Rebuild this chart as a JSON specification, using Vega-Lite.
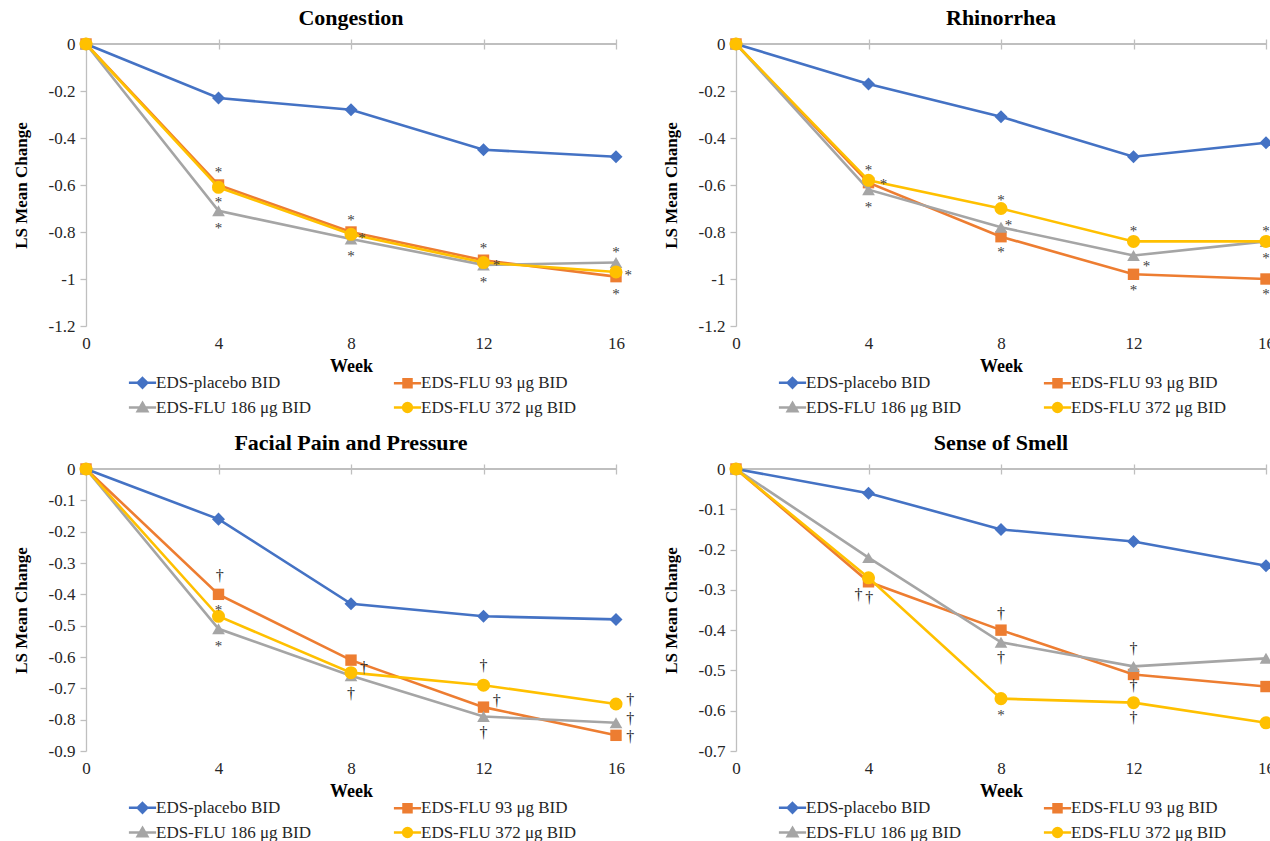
{
  "$schema": "https://vega.github.io/schema/vega-lite/v6.json",
  "background": "white",
  "padding": {"left": 12, "top": 7, "right": 0, "bottom": 0},
  "columns": 2,
  "spacing": {"row": 143, "column": 120},
  "bounds": "flush",
  "resolve": {"scale": {"fill": "independent", "stroke": "independent", "shape": "independent"}, "legend": {"fill": "independent", "stroke": "independent", "shape": "independent"}},
  "datasets": {
    "congestion": [
      {"week": 0, "group": "EDS-placebo BID", "value": 0}, {"week": 4, "group": "EDS-placebo BID", "value": -0.23}, {"week": 8, "group": "EDS-placebo BID", "value": -0.28}, {"week": 12, "group": "EDS-placebo BID", "value": -0.45}, {"week": 16, "group": "EDS-placebo BID", "value": -0.48},
      {"week": 0, "group": "EDS-FLU 93 μg BID", "value": 0}, {"week": 4, "group": "EDS-FLU 93 μg BID", "value": -0.6}, {"week": 8, "group": "EDS-FLU 93 μg BID", "value": -0.8}, {"week": 12, "group": "EDS-FLU 93 μg BID", "value": -0.92}, {"week": 16, "group": "EDS-FLU 93 μg BID", "value": -0.99},
      {"week": 0, "group": "EDS-FLU 186 μg BID", "value": 0}, {"week": 4, "group": "EDS-FLU 186 μg BID", "value": -0.71}, {"week": 8, "group": "EDS-FLU 186 μg BID", "value": -0.83}, {"week": 12, "group": "EDS-FLU 186 μg BID", "value": -0.94}, {"week": 16, "group": "EDS-FLU 186 μg BID", "value": -0.93},
      {"week": 0, "group": "EDS-FLU 372 μg BID", "value": 0}, {"week": 4, "group": "EDS-FLU 372 μg BID", "value": -0.61}, {"week": 8, "group": "EDS-FLU 372 μg BID", "value": -0.81}, {"week": 12, "group": "EDS-FLU 372 μg BID", "value": -0.93}, {"week": 16, "group": "EDS-FLU 372 μg BID", "value": -0.97}
    ],
    "rhinorrhea": [
      {"week": 0, "group": "EDS-placebo BID", "value": 0}, {"week": 4, "group": "EDS-placebo BID", "value": -0.17}, {"week": 8, "group": "EDS-placebo BID", "value": -0.31}, {"week": 12, "group": "EDS-placebo BID", "value": -0.48}, {"week": 16, "group": "EDS-placebo BID", "value": -0.42},
      {"week": 0, "group": "EDS-FLU 93 μg BID", "value": 0}, {"week": 4, "group": "EDS-FLU 93 μg BID", "value": -0.59}, {"week": 8, "group": "EDS-FLU 93 μg BID", "value": -0.82}, {"week": 12, "group": "EDS-FLU 93 μg BID", "value": -0.98}, {"week": 16, "group": "EDS-FLU 93 μg BID", "value": -1.0},
      {"week": 0, "group": "EDS-FLU 186 μg BID", "value": 0}, {"week": 4, "group": "EDS-FLU 186 μg BID", "value": -0.62}, {"week": 8, "group": "EDS-FLU 186 μg BID", "value": -0.78}, {"week": 12, "group": "EDS-FLU 186 μg BID", "value": -0.9}, {"week": 16, "group": "EDS-FLU 186 μg BID", "value": -0.84},
      {"week": 0, "group": "EDS-FLU 372 μg BID", "value": 0}, {"week": 4, "group": "EDS-FLU 372 μg BID", "value": -0.58}, {"week": 8, "group": "EDS-FLU 372 μg BID", "value": -0.7}, {"week": 12, "group": "EDS-FLU 372 μg BID", "value": -0.84}, {"week": 16, "group": "EDS-FLU 372 μg BID", "value": -0.84}
    ],
    "facial": [
      {"week": 0, "group": "EDS-placebo BID", "value": 0}, {"week": 4, "group": "EDS-placebo BID", "value": -0.16}, {"week": 8, "group": "EDS-placebo BID", "value": -0.43}, {"week": 12, "group": "EDS-placebo BID", "value": -0.47}, {"week": 16, "group": "EDS-placebo BID", "value": -0.48},
      {"week": 0, "group": "EDS-FLU 93 μg BID", "value": 0}, {"week": 4, "group": "EDS-FLU 93 μg BID", "value": -0.4}, {"week": 8, "group": "EDS-FLU 93 μg BID", "value": -0.61}, {"week": 12, "group": "EDS-FLU 93 μg BID", "value": -0.76}, {"week": 16, "group": "EDS-FLU 93 μg BID", "value": -0.85},
      {"week": 0, "group": "EDS-FLU 186 μg BID", "value": 0}, {"week": 4, "group": "EDS-FLU 186 μg BID", "value": -0.51}, {"week": 8, "group": "EDS-FLU 186 μg BID", "value": -0.66}, {"week": 12, "group": "EDS-FLU 186 μg BID", "value": -0.79}, {"week": 16, "group": "EDS-FLU 186 μg BID", "value": -0.81},
      {"week": 0, "group": "EDS-FLU 372 μg BID", "value": 0}, {"week": 4, "group": "EDS-FLU 372 μg BID", "value": -0.47}, {"week": 8, "group": "EDS-FLU 372 μg BID", "value": -0.65}, {"week": 12, "group": "EDS-FLU 372 μg BID", "value": -0.69}, {"week": 16, "group": "EDS-FLU 372 μg BID", "value": -0.75}
    ],
    "smell": [
      {"week": 0, "group": "EDS-placebo BID", "value": 0}, {"week": 4, "group": "EDS-placebo BID", "value": -0.06}, {"week": 8, "group": "EDS-placebo BID", "value": -0.15}, {"week": 12, "group": "EDS-placebo BID", "value": -0.18}, {"week": 16, "group": "EDS-placebo BID", "value": -0.24},
      {"week": 0, "group": "EDS-FLU 93 μg BID", "value": 0}, {"week": 4, "group": "EDS-FLU 93 μg BID", "value": -0.28}, {"week": 8, "group": "EDS-FLU 93 μg BID", "value": -0.4}, {"week": 12, "group": "EDS-FLU 93 μg BID", "value": -0.51}, {"week": 16, "group": "EDS-FLU 93 μg BID", "value": -0.54},
      {"week": 0, "group": "EDS-FLU 186 μg BID", "value": 0}, {"week": 4, "group": "EDS-FLU 186 μg BID", "value": -0.22}, {"week": 8, "group": "EDS-FLU 186 μg BID", "value": -0.43}, {"week": 12, "group": "EDS-FLU 186 μg BID", "value": -0.49}, {"week": 16, "group": "EDS-FLU 186 μg BID", "value": -0.47},
      {"week": 0, "group": "EDS-FLU 372 μg BID", "value": 0}, {"week": 4, "group": "EDS-FLU 372 μg BID", "value": -0.27}, {"week": 8, "group": "EDS-FLU 372 μg BID", "value": -0.57}, {"week": 12, "group": "EDS-FLU 372 μg BID", "value": -0.58}, {"week": 16, "group": "EDS-FLU 372 μg BID", "value": -0.63}
    ],
    "congestionNotes": [
      {"week": 4, "value": -0.533, "sym": "*"}, {"week": 4, "value": -0.658, "sym": "*"}, {"week": 4, "value": -0.77, "sym": "*"},
      {"week": 8, "value": -0.736, "sym": "*"}, {"week": 8.33, "value": -0.814, "sym": "*"}, {"week": 8, "value": -0.89, "sym": "*"},
      {"week": 12, "value": -0.857, "sym": "*"}, {"week": 12.39, "value": -0.928, "sym": "*"}, {"week": 12, "value": -1.0, "sym": "*"},
      {"week": 16, "value": -0.874, "sym": "*"}, {"week": 16.37, "value": -0.969, "sym": "*"}, {"week": 16, "value": -1.05, "sym": "*"}
    ],
    "rhinorrheaNotes": [
      {"week": 4, "value": -0.523, "sym": "*"}, {"week": 4.45, "value": -0.582, "sym": "*"}, {"week": 4, "value": -0.682, "sym": "*"},
      {"week": 8, "value": -0.65, "sym": "*"}, {"week": 8.23, "value": -0.757, "sym": "*"}, {"week": 8, "value": -0.873, "sym": "*"},
      {"week": 12, "value": -0.781, "sym": "*"}, {"week": 12.39, "value": -0.93, "sym": "*"}, {"week": 12, "value": -1.034, "sym": "*"},
      {"week": 16, "value": -0.781, "sym": "*"}, {"week": 16, "value": -0.898, "sym": "*"}, {"week": 16, "value": -1.05, "sym": "*"}
    ],
    "facialNotes": [
      {"week": 4.04, "value": -0.343, "sym": "†"}, {"week": 4, "value": -0.439, "sym": "*"}, {"week": 4, "value": -0.554, "sym": "*"},
      {"week": 8.39, "value": -0.636, "sym": "†"}, {"week": 8, "value": -0.718, "sym": "†"},
      {"week": 12, "value": -0.63, "sym": "†"}, {"week": 12.4, "value": -0.742, "sym": "†"}, {"week": 12, "value": -0.843, "sym": "†"},
      {"week": 16.43, "value": -0.737, "sym": "†"}, {"week": 16.43, "value": -0.798, "sym": "†"}, {"week": 16.43, "value": -0.854, "sym": "†"}
    ],
    "smellNotes": [
      {"week": 3.7, "value": -0.313, "sym": "†"}, {"week": 4.02, "value": -0.321, "sym": "†"},
      {"week": 8, "value": -0.36, "sym": "†"}, {"week": 8, "value": -0.468, "sym": "†"}, {"week": 8, "value": -0.603, "sym": "*"},
      {"week": 12, "value": -0.447, "sym": "†"}, {"week": 12, "value": -0.539, "sym": "†"}, {"week": 12, "value": -0.617, "sym": "†"}
    ]
  },
  "concat": [
    {
      "title": "Congestion",
      "width": 530, "height": 282,
      "data": {"name": "congestion"},
      "resolve": {"axis": {"x": "independent", "y": "independent"}},
      "layer": [
        {"mark": {"type": "rule", "color": "#BFBFBF", "strokeWidth": 1.3}, "encoding": {"y": {"datum": 0, "type": "quantitative", "axis": null}}},
        {"transform": [{"filter": {"field": "group", "equal": "EDS-placebo BID"}}], "mark": {"type": "line", "strokeWidth": 2.6, "color": "#4472C4"},
         "encoding": {
           "x": {"field": "week", "type": "quantitative", "scale": {"domain": [0, 16], "nice": false, "zero": false}, "axis": {"orient": "bottom", "values": [0, 4, 8, 12, 16], "domain": false, "ticks": false, "labelPadding": 9, "labelFlush": false, "title": "Week", "titlePadding": 6}},
           "y": {"field": "value", "type": "quantitative", "scale": {"domain": [-1.2, 0], "nice": false, "zero": false}, "axis": {"values": [0, -0.2, -0.4, -0.6, -0.8, -1, -1.2], "labelExpr": "toString(round(datum.value*10)/10)", "title": "LS Mean Change", "tickSize": 6, "labelPadding": 5, "titlePadding": 18}}}},
        {"transform": [{"filter": {"field": "group", "equal": "EDS-placebo BID"}}], "mark": {"type": "point", "shape": "diamond", "filled": true, "opacity": 1, "size": 170, "color": "#4472C4"}, "encoding": {"x": {"field": "week", "type": "quantitative", "axis": null}, "y": {"field": "value", "type": "quantitative", "axis": null}}},
        {"transform": [{"filter": {"field": "group", "equal": "EDS-FLU 93 μg BID"}}], "mark": {"type": "line", "strokeWidth": 2.6, "color": "#ED7D31"}, "encoding": {"x": {"field": "week", "type": "quantitative", "axis": null}, "y": {"field": "value", "type": "quantitative", "axis": null}}},
        {"transform": [{"filter": {"field": "group", "equal": "EDS-FLU 93 μg BID"}}], "mark": {"type": "point", "shape": "square", "filled": true, "opacity": 1, "size": 130, "color": "#ED7D31"}, "encoding": {"x": {"field": "week", "type": "quantitative", "axis": null}, "y": {"field": "value", "type": "quantitative", "axis": null}}},
        {"transform": [{"filter": {"field": "group", "equal": "EDS-FLU 186 μg BID"}}], "mark": {"type": "line", "strokeWidth": 2.6, "color": "#A5A5A5"}, "encoding": {"x": {"field": "week", "type": "quantitative", "axis": null}, "y": {"field": "value", "type": "quantitative", "axis": null}}},
        {"transform": [{"filter": {"field": "group", "equal": "EDS-FLU 186 μg BID"}}], "mark": {"type": "point", "shape": "triangle-up", "filled": true, "opacity": 1, "size": 160, "color": "#A5A5A5"}, "encoding": {"x": {"field": "week", "type": "quantitative", "axis": null}, "y": {"field": "value", "type": "quantitative", "axis": null}}},
        {"transform": [{"filter": {"field": "group", "equal": "EDS-FLU 372 μg BID"}}], "mark": {"type": "line", "strokeWidth": 2.6, "color": "#FFC000"}, "encoding": {"x": {"field": "week", "type": "quantitative", "axis": null}, "y": {"field": "value", "type": "quantitative", "axis": null}}},
        {"transform": [{"filter": {"field": "group", "equal": "EDS-FLU 372 μg BID"}}], "mark": {"type": "point", "shape": "circle", "filled": true, "opacity": 1, "size": 170, "color": "#FFC000"}, "encoding": {"x": {"field": "week", "type": "quantitative", "axis": null}, "y": {"field": "value", "type": "quantitative", "axis": null}}},
        {"mark": {"type": "point", "opacity": 0},
         "encoding": {
           "x": {"field": "week", "type": "quantitative", "axis": {"orient": "top", "values": [4, 8, 12, 16], "domain": false, "labels": false, "ticks": true, "tickSize": 10, "offset": -5, "title": null}},
           "y": {"field": "value", "type": "quantitative", "axis": null},
           "fill": {"field": "group", "type": "nominal", "scale": {"domain": ["EDS-placebo BID", "EDS-FLU 93 μg BID", "EDS-FLU 186 μg BID", "EDS-FLU 372 μg BID"], "range": ["#4472C4", "#ED7D31", "#A5A5A5", "#FFC000"]}, "legend": {"title": null, "orient": "none", "direction": "horizontal", "legendX": 48, "legendY": 330}},
           "stroke": {"field": "group", "type": "nominal", "scale": {"domain": ["EDS-placebo BID", "EDS-FLU 93 μg BID", "EDS-FLU 186 μg BID", "EDS-FLU 372 μg BID"], "range": ["#4472C4", "#ED7D31", "#A5A5A5", "#FFC000"]}, "legend": {"title": null, "orient": "none", "direction": "horizontal", "legendX": 48, "legendY": 330}},
           "shape": {"field": "group", "type": "nominal", "scale": {"domain": ["EDS-placebo BID", "EDS-FLU 93 μg BID", "EDS-FLU 186 μg BID", "EDS-FLU 372 μg BID"], "range": ["M-3.4,0H3.4M0,-1.2L1.2,0L0,1.2L-1.2,0Z", "M-3.4,0H3.4M-1,-1H1V1H-1Z", "M-3.4,0H3.4M0,-1.15L1.2,0.95H-1.2Z", "M-3.4,0H3.4M-1.1,0A1.1,1.1,0,1,1,1.1,0A1.1,1.1,0,1,1,-1.1,0Z"]}, "legend": {"title": null, "orient": "none", "direction": "horizontal", "legendX": 48, "legendY": 330}}}},
        {"data": {"name": "congestionNotes"}, "transform": [{"filter": "datum.sym === '*'"}], "mark": {"type": "text", "fontSize": 15, "fill": "#404040", "dy": 3}, "encoding": {"x": {"field": "week", "type": "quantitative", "axis": null}, "y": {"field": "value", "type": "quantitative", "axis": null}, "text": {"field": "sym"}}},
        {"data": {"name": "congestionNotes"}, "transform": [{"filter": "datum.sym === '†'"}], "mark": {"type": "text", "fontSize": 16, "fill": "#262626"}, "encoding": {"x": {"field": "week", "type": "quantitative", "axis": null}, "y": {"field": "value", "type": "quantitative", "axis": null}, "text": {"field": "sym"}}}
      ]
    },
    {
      "title": "Rhinorrhea",
      "width": 530, "height": 282,
      "data": {"name": "rhinorrhea"},
      "resolve": {"axis": {"x": "independent", "y": "independent"}},
      "layer": [
        {"mark": {"type": "rule", "color": "#BFBFBF", "strokeWidth": 1.3}, "encoding": {"y": {"datum": 0, "type": "quantitative", "axis": null}}},
        {"transform": [{"filter": {"field": "group", "equal": "EDS-placebo BID"}}], "mark": {"type": "line", "strokeWidth": 2.6, "color": "#4472C4"},
         "encoding": {
           "x": {"field": "week", "type": "quantitative", "scale": {"domain": [0, 16], "nice": false, "zero": false}, "axis": {"orient": "bottom", "values": [0, 4, 8, 12, 16], "domain": false, "ticks": false, "labelPadding": 9, "labelFlush": false, "title": "Week", "titlePadding": 6}},
           "y": {"field": "value", "type": "quantitative", "scale": {"domain": [-1.2, 0], "nice": false, "zero": false}, "axis": {"values": [0, -0.2, -0.4, -0.6, -0.8, -1, -1.2], "labelExpr": "toString(round(datum.value*10)/10)", "title": "LS Mean Change", "tickSize": 6, "labelPadding": 5, "titlePadding": 18}}}},
        {"transform": [{"filter": {"field": "group", "equal": "EDS-placebo BID"}}], "mark": {"type": "point", "shape": "diamond", "filled": true, "opacity": 1, "size": 170, "color": "#4472C4"}, "encoding": {"x": {"field": "week", "type": "quantitative", "axis": null}, "y": {"field": "value", "type": "quantitative", "axis": null}}},
        {"transform": [{"filter": {"field": "group", "equal": "EDS-FLU 93 μg BID"}}], "mark": {"type": "line", "strokeWidth": 2.6, "color": "#ED7D31"}, "encoding": {"x": {"field": "week", "type": "quantitative", "axis": null}, "y": {"field": "value", "type": "quantitative", "axis": null}}},
        {"transform": [{"filter": {"field": "group", "equal": "EDS-FLU 93 μg BID"}}], "mark": {"type": "point", "shape": "square", "filled": true, "opacity": 1, "size": 130, "color": "#ED7D31"}, "encoding": {"x": {"field": "week", "type": "quantitative", "axis": null}, "y": {"field": "value", "type": "quantitative", "axis": null}}},
        {"transform": [{"filter": {"field": "group", "equal": "EDS-FLU 186 μg BID"}}], "mark": {"type": "line", "strokeWidth": 2.6, "color": "#A5A5A5"}, "encoding": {"x": {"field": "week", "type": "quantitative", "axis": null}, "y": {"field": "value", "type": "quantitative", "axis": null}}},
        {"transform": [{"filter": {"field": "group", "equal": "EDS-FLU 186 μg BID"}}], "mark": {"type": "point", "shape": "triangle-up", "filled": true, "opacity": 1, "size": 160, "color": "#A5A5A5"}, "encoding": {"x": {"field": "week", "type": "quantitative", "axis": null}, "y": {"field": "value", "type": "quantitative", "axis": null}}},
        {"transform": [{"filter": {"field": "group", "equal": "EDS-FLU 372 μg BID"}}], "mark": {"type": "line", "strokeWidth": 2.6, "color": "#FFC000"}, "encoding": {"x": {"field": "week", "type": "quantitative", "axis": null}, "y": {"field": "value", "type": "quantitative", "axis": null}}},
        {"transform": [{"filter": {"field": "group", "equal": "EDS-FLU 372 μg BID"}}], "mark": {"type": "point", "shape": "circle", "filled": true, "opacity": 1, "size": 170, "color": "#FFC000"}, "encoding": {"x": {"field": "week", "type": "quantitative", "axis": null}, "y": {"field": "value", "type": "quantitative", "axis": null}}},
        {"mark": {"type": "point", "opacity": 0},
         "encoding": {
           "x": {"field": "week", "type": "quantitative", "axis": {"orient": "top", "values": [4, 8, 12, 16], "domain": false, "labels": false, "ticks": true, "tickSize": 10, "offset": -5, "title": null}},
           "y": {"field": "value", "type": "quantitative", "axis": null},
           "fill": {"field": "group", "type": "nominal", "scale": {"domain": ["EDS-placebo BID", "EDS-FLU 93 μg BID", "EDS-FLU 186 μg BID", "EDS-FLU 372 μg BID"], "range": ["#4472C4", "#ED7D31", "#A5A5A5", "#FFC000"]}, "legend": {"title": null, "orient": "none", "direction": "horizontal", "legendX": 48, "legendY": 330}},
           "stroke": {"field": "group", "type": "nominal", "scale": {"domain": ["EDS-placebo BID", "EDS-FLU 93 μg BID", "EDS-FLU 186 μg BID", "EDS-FLU 372 μg BID"], "range": ["#4472C4", "#ED7D31", "#A5A5A5", "#FFC000"]}, "legend": {"title": null, "orient": "none", "direction": "horizontal", "legendX": 48, "legendY": 330}},
           "shape": {"field": "group", "type": "nominal", "scale": {"domain": ["EDS-placebo BID", "EDS-FLU 93 μg BID", "EDS-FLU 186 μg BID", "EDS-FLU 372 μg BID"], "range": ["M-3.4,0H3.4M0,-1.2L1.2,0L0,1.2L-1.2,0Z", "M-3.4,0H3.4M-1,-1H1V1H-1Z", "M-3.4,0H3.4M0,-1.15L1.2,0.95H-1.2Z", "M-3.4,0H3.4M-1.1,0A1.1,1.1,0,1,1,1.1,0A1.1,1.1,0,1,1,-1.1,0Z"]}, "legend": {"title": null, "orient": "none", "direction": "horizontal", "legendX": 48, "legendY": 330}}}},
        {"data": {"name": "rhinorrheaNotes"}, "transform": [{"filter": "datum.sym === '*'"}], "mark": {"type": "text", "fontSize": 15, "fill": "#404040", "dy": 3}, "encoding": {"x": {"field": "week", "type": "quantitative", "axis": null}, "y": {"field": "value", "type": "quantitative", "axis": null}, "text": {"field": "sym"}}},
        {"data": {"name": "rhinorrheaNotes"}, "transform": [{"filter": "datum.sym === '†'"}], "mark": {"type": "text", "fontSize": 16, "fill": "#262626"}, "encoding": {"x": {"field": "week", "type": "quantitative", "axis": null}, "y": {"field": "value", "type": "quantitative", "axis": null}, "text": {"field": "sym"}}}
      ]
    },
    {
      "title": "Facial Pain and Pressure",
      "width": 530, "height": 282,
      "data": {"name": "facial"},
      "resolve": {"axis": {"x": "independent", "y": "independent"}},
      "layer": [
        {"mark": {"type": "rule", "color": "#BFBFBF", "strokeWidth": 1.3}, "encoding": {"y": {"datum": 0, "type": "quantitative", "axis": null}}},
        {"transform": [{"filter": {"field": "group", "equal": "EDS-placebo BID"}}], "mark": {"type": "line", "strokeWidth": 2.6, "color": "#4472C4"},
         "encoding": {
           "x": {"field": "week", "type": "quantitative", "scale": {"domain": [0, 16], "nice": false, "zero": false}, "axis": {"orient": "bottom", "values": [0, 4, 8, 12, 16], "domain": false, "ticks": false, "labelPadding": 9, "labelFlush": false, "title": "Week", "titlePadding": 6}},
           "y": {"field": "value", "type": "quantitative", "scale": {"domain": [-0.9, 0], "nice": false, "zero": false}, "axis": {"values": [0, -0.1, -0.2, -0.3, -0.4, -0.5, -0.6, -0.7, -0.8, -0.9], "labelExpr": "toString(round(datum.value*10)/10)", "title": "LS Mean Change", "tickSize": 6, "labelPadding": 5, "titlePadding": 18}}}},
        {"transform": [{"filter": {"field": "group", "equal": "EDS-placebo BID"}}], "mark": {"type": "point", "shape": "diamond", "filled": true, "opacity": 1, "size": 170, "color": "#4472C4"}, "encoding": {"x": {"field": "week", "type": "quantitative", "axis": null}, "y": {"field": "value", "type": "quantitative", "axis": null}}},
        {"transform": [{"filter": {"field": "group", "equal": "EDS-FLU 93 μg BID"}}], "mark": {"type": "line", "strokeWidth": 2.6, "color": "#ED7D31"}, "encoding": {"x": {"field": "week", "type": "quantitative", "axis": null}, "y": {"field": "value", "type": "quantitative", "axis": null}}},
        {"transform": [{"filter": {"field": "group", "equal": "EDS-FLU 93 μg BID"}}], "mark": {"type": "point", "shape": "square", "filled": true, "opacity": 1, "size": 130, "color": "#ED7D31"}, "encoding": {"x": {"field": "week", "type": "quantitative", "axis": null}, "y": {"field": "value", "type": "quantitative", "axis": null}}},
        {"transform": [{"filter": {"field": "group", "equal": "EDS-FLU 186 μg BID"}}], "mark": {"type": "line", "strokeWidth": 2.6, "color": "#A5A5A5"}, "encoding": {"x": {"field": "week", "type": "quantitative", "axis": null}, "y": {"field": "value", "type": "quantitative", "axis": null}}},
        {"transform": [{"filter": {"field": "group", "equal": "EDS-FLU 186 μg BID"}}], "mark": {"type": "point", "shape": "triangle-up", "filled": true, "opacity": 1, "size": 160, "color": "#A5A5A5"}, "encoding": {"x": {"field": "week", "type": "quantitative", "axis": null}, "y": {"field": "value", "type": "quantitative", "axis": null}}},
        {"transform": [{"filter": {"field": "group", "equal": "EDS-FLU 372 μg BID"}}], "mark": {"type": "line", "strokeWidth": 2.6, "color": "#FFC000"}, "encoding": {"x": {"field": "week", "type": "quantitative", "axis": null}, "y": {"field": "value", "type": "quantitative", "axis": null}}},
        {"transform": [{"filter": {"field": "group", "equal": "EDS-FLU 372 μg BID"}}], "mark": {"type": "point", "shape": "circle", "filled": true, "opacity": 1, "size": 170, "color": "#FFC000"}, "encoding": {"x": {"field": "week", "type": "quantitative", "axis": null}, "y": {"field": "value", "type": "quantitative", "axis": null}}},
        {"mark": {"type": "point", "opacity": 0},
         "encoding": {
           "x": {"field": "week", "type": "quantitative", "axis": {"orient": "top", "values": [4, 8, 12, 16], "domain": false, "labels": false, "ticks": true, "tickSize": 10, "offset": -5, "title": null}},
           "y": {"field": "value", "type": "quantitative", "axis": null},
           "fill": {"field": "group", "type": "nominal", "scale": {"domain": ["EDS-placebo BID", "EDS-FLU 93 μg BID", "EDS-FLU 186 μg BID", "EDS-FLU 372 μg BID"], "range": ["#4472C4", "#ED7D31", "#A5A5A5", "#FFC000"]}, "legend": {"title": null, "orient": "none", "direction": "horizontal", "legendX": 48, "legendY": 330}},
           "stroke": {"field": "group", "type": "nominal", "scale": {"domain": ["EDS-placebo BID", "EDS-FLU 93 μg BID", "EDS-FLU 186 μg BID", "EDS-FLU 372 μg BID"], "range": ["#4472C4", "#ED7D31", "#A5A5A5", "#FFC000"]}, "legend": {"title": null, "orient": "none", "direction": "horizontal", "legendX": 48, "legendY": 330}},
           "shape": {"field": "group", "type": "nominal", "scale": {"domain": ["EDS-placebo BID", "EDS-FLU 93 μg BID", "EDS-FLU 186 μg BID", "EDS-FLU 372 μg BID"], "range": ["M-3.4,0H3.4M0,-1.2L1.2,0L0,1.2L-1.2,0Z", "M-3.4,0H3.4M-1,-1H1V1H-1Z", "M-3.4,0H3.4M0,-1.15L1.2,0.95H-1.2Z", "M-3.4,0H3.4M-1.1,0A1.1,1.1,0,1,1,1.1,0A1.1,1.1,0,1,1,-1.1,0Z"]}, "legend": {"title": null, "orient": "none", "direction": "horizontal", "legendX": 48, "legendY": 330}}}},
        {"data": {"name": "facialNotes"}, "transform": [{"filter": "datum.sym === '*'"}], "mark": {"type": "text", "fontSize": 15, "fill": "#404040", "dy": 3}, "encoding": {"x": {"field": "week", "type": "quantitative", "axis": null}, "y": {"field": "value", "type": "quantitative", "axis": null}, "text": {"field": "sym"}}},
        {"data": {"name": "facialNotes"}, "transform": [{"filter": "datum.sym === '†'"}], "mark": {"type": "text", "fontSize": 16, "fill": "#262626"}, "encoding": {"x": {"field": "week", "type": "quantitative", "axis": null}, "y": {"field": "value", "type": "quantitative", "axis": null}, "text": {"field": "sym"}}}
      ]
    },
    {
      "title": "Sense of Smell",
      "width": 530, "height": 282,
      "data": {"name": "smell"},
      "resolve": {"axis": {"x": "independent", "y": "independent"}},
      "layer": [
        {"mark": {"type": "rule", "color": "#BFBFBF", "strokeWidth": 1.3}, "encoding": {"y": {"datum": 0, "type": "quantitative", "axis": null}}},
        {"transform": [{"filter": {"field": "group", "equal": "EDS-placebo BID"}}], "mark": {"type": "line", "strokeWidth": 2.6, "color": "#4472C4"},
         "encoding": {
           "x": {"field": "week", "type": "quantitative", "scale": {"domain": [0, 16], "nice": false, "zero": false}, "axis": {"orient": "bottom", "values": [0, 4, 8, 12, 16], "domain": false, "ticks": false, "labelPadding": 9, "labelFlush": false, "title": "Week", "titlePadding": 6}},
           "y": {"field": "value", "type": "quantitative", "scale": {"domain": [-0.7, 0], "nice": false, "zero": false}, "axis": {"values": [0, -0.1, -0.2, -0.3, -0.4, -0.5, -0.6, -0.7], "labelExpr": "toString(round(datum.value*10)/10)", "title": "LS Mean Change", "tickSize": 6, "labelPadding": 5, "titlePadding": 18}}}},
        {"transform": [{"filter": {"field": "group", "equal": "EDS-placebo BID"}}], "mark": {"type": "point", "shape": "diamond", "filled": true, "opacity": 1, "size": 170, "color": "#4472C4"}, "encoding": {"x": {"field": "week", "type": "quantitative", "axis": null}, "y": {"field": "value", "type": "quantitative", "axis": null}}},
        {"transform": [{"filter": {"field": "group", "equal": "EDS-FLU 93 μg BID"}}], "mark": {"type": "line", "strokeWidth": 2.6, "color": "#ED7D31"}, "encoding": {"x": {"field": "week", "type": "quantitative", "axis": null}, "y": {"field": "value", "type": "quantitative", "axis": null}}},
        {"transform": [{"filter": {"field": "group", "equal": "EDS-FLU 93 μg BID"}}], "mark": {"type": "point", "shape": "square", "filled": true, "opacity": 1, "size": 130, "color": "#ED7D31"}, "encoding": {"x": {"field": "week", "type": "quantitative", "axis": null}, "y": {"field": "value", "type": "quantitative", "axis": null}}},
        {"transform": [{"filter": {"field": "group", "equal": "EDS-FLU 186 μg BID"}}], "mark": {"type": "line", "strokeWidth": 2.6, "color": "#A5A5A5"}, "encoding": {"x": {"field": "week", "type": "quantitative", "axis": null}, "y": {"field": "value", "type": "quantitative", "axis": null}}},
        {"transform": [{"filter": {"field": "group", "equal": "EDS-FLU 186 μg BID"}}], "mark": {"type": "point", "shape": "triangle-up", "filled": true, "opacity": 1, "size": 160, "color": "#A5A5A5"}, "encoding": {"x": {"field": "week", "type": "quantitative", "axis": null}, "y": {"field": "value", "type": "quantitative", "axis": null}}},
        {"transform": [{"filter": {"field": "group", "equal": "EDS-FLU 372 μg BID"}}], "mark": {"type": "line", "strokeWidth": 2.6, "color": "#FFC000"}, "encoding": {"x": {"field": "week", "type": "quantitative", "axis": null}, "y": {"field": "value", "type": "quantitative", "axis": null}}},
        {"transform": [{"filter": {"field": "group", "equal": "EDS-FLU 372 μg BID"}}], "mark": {"type": "point", "shape": "circle", "filled": true, "opacity": 1, "size": 170, "color": "#FFC000"}, "encoding": {"x": {"field": "week", "type": "quantitative", "axis": null}, "y": {"field": "value", "type": "quantitative", "axis": null}}},
        {"mark": {"type": "point", "opacity": 0},
         "encoding": {
           "x": {"field": "week", "type": "quantitative", "axis": {"orient": "top", "values": [4, 8, 12, 16], "domain": false, "labels": false, "ticks": true, "tickSize": 10, "offset": -5, "title": null}},
           "y": {"field": "value", "type": "quantitative", "axis": null},
           "fill": {"field": "group", "type": "nominal", "scale": {"domain": ["EDS-placebo BID", "EDS-FLU 93 μg BID", "EDS-FLU 186 μg BID", "EDS-FLU 372 μg BID"], "range": ["#4472C4", "#ED7D31", "#A5A5A5", "#FFC000"]}, "legend": {"title": null, "orient": "none", "direction": "horizontal", "legendX": 48, "legendY": 330}},
           "stroke": {"field": "group", "type": "nominal", "scale": {"domain": ["EDS-placebo BID", "EDS-FLU 93 μg BID", "EDS-FLU 186 μg BID", "EDS-FLU 372 μg BID"], "range": ["#4472C4", "#ED7D31", "#A5A5A5", "#FFC000"]}, "legend": {"title": null, "orient": "none", "direction": "horizontal", "legendX": 48, "legendY": 330}},
           "shape": {"field": "group", "type": "nominal", "scale": {"domain": ["EDS-placebo BID", "EDS-FLU 93 μg BID", "EDS-FLU 186 μg BID", "EDS-FLU 372 μg BID"], "range": ["M-3.4,0H3.4M0,-1.2L1.2,0L0,1.2L-1.2,0Z", "M-3.4,0H3.4M-1,-1H1V1H-1Z", "M-3.4,0H3.4M0,-1.15L1.2,0.95H-1.2Z", "M-3.4,0H3.4M-1.1,0A1.1,1.1,0,1,1,1.1,0A1.1,1.1,0,1,1,-1.1,0Z"]}, "legend": {"title": null, "orient": "none", "direction": "horizontal", "legendX": 48, "legendY": 330}}}},
        {"data": {"name": "smellNotes"}, "transform": [{"filter": "datum.sym === '*'"}], "mark": {"type": "text", "fontSize": 15, "fill": "#404040", "dy": 3}, "encoding": {"x": {"field": "week", "type": "quantitative", "axis": null}, "y": {"field": "value", "type": "quantitative", "axis": null}, "text": {"field": "sym"}}},
        {"data": {"name": "smellNotes"}, "transform": [{"filter": "datum.sym === '†'"}], "mark": {"type": "text", "fontSize": 16, "fill": "#262626"}, "encoding": {"x": {"field": "week", "type": "quantitative", "axis": null}, "y": {"field": "value", "type": "quantitative", "axis": null}, "text": {"field": "sym"}}}
      ]
    }
  ],
  "config": {
    "font": "Liberation Serif",
    "view": {"stroke": null},
    "axis": {"grid": false, "domainColor": "#BFBFBF", "domainWidth": 1.3, "tickColor": "#BFBFBF", "tickWidth": 1.3, "labelFont": "Liberation Serif", "labelFontSize": 17, "labelColor": "#262626", "titleFont": "Liberation Serif", "titleFontSize": 18, "titleFontWeight": "bold", "titleColor": "#000000"},
    "axisY": {"titleFontSize": 17},
    "legend": {"columns": 2, "columnPadding": 76, "rowPadding": 4, "symbolSize": 64, "symbolStrokeWidth": 2.5, "labelOffset": 5, "labelFont": "Liberation Serif", "labelFontSize": 17, "labelColor": "#262626", "symbolOpacity": 1, "labelLimit": 300},
    "title": {"font": "Liberation Serif", "fontSize": 22, "fontWeight": "bold", "color": "#000000", "offset": 5},
    "text": {"font": "Liberation Serif"}
  }
}
